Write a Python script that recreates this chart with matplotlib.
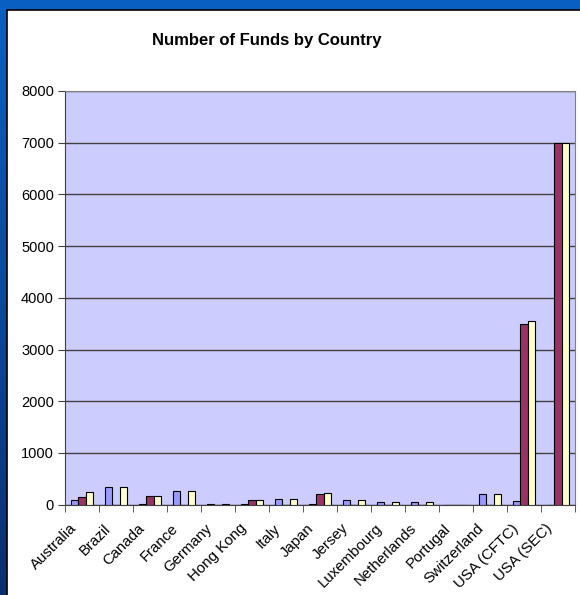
import numpy as np
import matplotlib
matplotlib.use('Agg')
from matplotlib import pyplot as plt
from matplotlib.patches import Rectangle
from matplotlib.colors import LinearSegmentedColormap
import matplotlib.transforms as mtransforms

plt.rcParams['font.family'] = ['Liberation Sans', 'DejaVu Sans']

countries = ['Australia', 'Brazil', 'Canada', 'France', 'Germany', 'Hong Kong', 'Italy',
             'Japan', 'Jersey', 'Luxembourg', 'Netherlands', 'Portugal', 'Switzerland',
             'USA (CFTC)', 'USA (SEC)']
series_blue = [90, 335, 10, 265, 15, 10, 115, 10, 90, 50, 50, 0, 205, 70, 0]
series_red = [150, 0, 175, 0, 0, 90, 0, 200, 0, 0, 0, 0, 0, 3500, 7000]
series_yellow = [245, 335, 175, 265, 15, 90, 115, 225, 90, 50, 50, 0, 205, 3560, 7000]
y_ticks = [0, 1000, 2000, 3000, 4000, 5000, 6000, 7000, 8000]

fig = plt.figure(figsize=(5.8, 5.95), dpi=100)

# blue slide background with a slight vertical gradient
bg = fig.add_axes([0, 0, 1, 1], zorder=-10)
grad = np.linspace(0, 1, 256).reshape(-1, 1)
cmap = LinearSegmentedColormap.from_list('slide', ['#0b60c4', '#0a4a9c', '#0a3070'])
bg.imshow(grad, aspect='auto', cmap=cmap, extent=[0, 1, 0, 1], origin='upper')
bg.set_axis_off()
bg.add_patch(Rectangle((7 / 580, -0.1), 1.2, 0.1 + (595 - 9.5) / 595,
                       transform=bg.transAxes, facecolor='white', edgecolor='black', lw=1.2))
bg.set_xlim(0, 1)
bg.set_ylim(0, 1)

ax = fig.add_axes([65 / 580, 90.4 / 595, 510 / 580, 413.6 / 595])
ax.set_facecolor('#ccccff')

n = len(countries)
x = np.arange(n)
w = 1 / 4.5
ax.bar(x - w, series_blue, w, color='#9999ff', edgecolor='black', lw=0.8, zorder=3)
ax.bar(x, series_red, w, color='#993366', edgecolor='black', lw=0.8, zorder=3)
ax.bar(x + w, series_yellow, w, color='#ffffcc', edgecolor='black', lw=0.8, zorder=3)

ax.set_xlim(-0.5, n - 0.5)
ax.set_ylim(0, 8000)
ax.set_yticks(y_ticks)
ax.set_yticklabels([str(v) for v in y_ticks], fontsize=10.5)
ax.yaxis.grid(True, color='#404040', lw=1, zorder=1)
ax.set_axisbelow(True)

ax.set_xticks(x)
ax.set_xticklabels(countries, rotation=45, ha='right', rotation_mode='anchor', fontsize=10.8)
ax.tick_params(axis='x', which='major', length=0, pad=12)
offset = mtransforms.ScaledTranslation(-0.13, 0, fig.dpi_scale_trans)
for lbl in ax.get_xticklabels():
    lbl.set_transform(lbl.get_transform() + offset)
ax.set_xticks(np.arange(n + 1) - 0.5, minor=True)
ax.tick_params(axis='x', which='minor', length=5, color='#404040', direction='out')
ax.tick_params(axis='y', length=5, color='#404040', direction='out', pad=3)

for s in ['top', 'right']:
    ax.spines[s].set_color('#808080')
for s in ['left', 'bottom']:
    ax.spines[s].set_color('#404040')

fig.text(267 / 580, 1 - 40 / 595, 'Number of Funds by Country', ha='center', va='center',
         fontsize=12, fontweight='bold')

fig.savefig('out.png', dpi=100)
